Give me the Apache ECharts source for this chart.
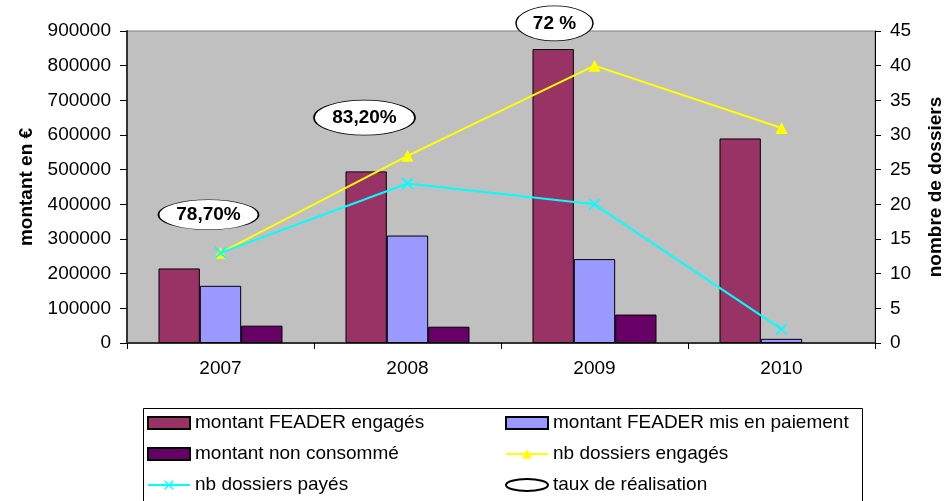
<!DOCTYPE html>
<html>
<head>
<meta charset="utf-8">
<script src="https://cdn.jsdelivr.net/npm/echarts@6/dist/echarts.min.js"></script>
<style>
  html, body { margin: 0; padding: 0; background: #fff; }
  #chart { width: 948px; height: 501px; }
</style>
</head>
<body>
<div id="chart"></div>
<script>
// données
const annees = ["2007", "2008", "2009", "2010"];
const montantEngages = [215000, 495000, 848000, 590000];
const montantPaiement = [165000, 310000, 242000, 12000];
const montantNonConsomme = [50000, 47000, 82000, null];
const nbDossiersEngages = [13, 27, 40, 31];
const nbDossiersPayes = [13, 23, 20, 2];
const tauxRealisation = ["78,70%", "83,20%", "72 %"];
const tauxHauteur = [370000, 650000, 922000];

// réglages des bulles (position / taille)
const bulleDecalage = [[-12, 0], [-43, 0], [-40, 0]];
const bulleTaille = [[100, 30], [101, 35], [77, 35]];

const font = "Liberation Sans, Arial, sans-serif";
const ellipse = "path://M50,0 C77.6,0 100,22.4 100,50 C100,77.6 77.6,100 50,100 C22.4,100 0,77.6 0,50 C0,22.4 22.4,0 50,0 Z";
const croix = "path://M0,1 L1,0 L5,4 L9,0 L10,1 L6,5 L10,9 L9,10 L5,6 L1,10 L0,9 L4,5 Z";

const chart = echarts.init(document.getElementById("chart"));

const legendeCommune = {
  orient: "vertical",
  top: 413,
  padding: 0,
  itemWidth: 42,
  itemHeight: 12,
  itemGap: 11,
  textStyle: { fontFamily: font, fontSize: 19, color: "#000", lineHeight: 20 },
};

chart.setOption({
  animation: false,
  textStyle: { fontFamily: font },
  grid: {
    left: 127,
    right: 73,
    top: 31,
    bottom: 158,
    containLabel: false,
    outerBoundsMode: "none",
    show: true,
    backgroundColor: "#C0C0C0",
    borderColor: "#808080",
    borderWidth: 1,
  },
  legend: [
    Object.assign({}, legendeCommune, {
      left: 147,
      data: [
        { name: "montant FEADER engagés", icon: "rect" },
        { name: "montant non consommé", icon: "rect" },
        "nb dossiers payés",
      ],
    }),
    Object.assign({}, legendeCommune, {
      left: 505,
      symbolKeepAspect: false,
      data: [
        { name: "montant FEADER mis en paiement", icon: "rect" },
        "nb dossiers engagés",
        { name: "taux de réalisation", icon: ellipse },
      ],
    }),
  ],
  graphic: [
    {
      type: "rect",
      left: 141,
      top: 406,
      shape: { width: 719, height: 110 },
      style: { fill: "none", stroke: "#000", lineWidth: 1 },
      silent: true,
    },
  ],
  xAxis: {
    type: "category",
    data: annees,
    axisLine: { lineStyle: { color: "#333", width: 2 } },
    axisTick: { show: true, length: 6, lineStyle: { color: "#000" } },
    axisLabel: { fontSize: 19, color: "#000", margin: 16 },
  },
  yAxis: [
    {
      type: "value",
      min: 0,
      max: 900000,
      interval: 100000,
      name: "montant en €",
      nameLocation: "middle",
      nameRotate: 90,
      nameGap: 88,
      nameTextStyle: { fontSize: 19, fontWeight: "bold", color: "#000" },
      axisLine: { show: true, lineStyle: { color: "#333", width: 2 } },
      axisTick: { show: true, length: 7, lineStyle: { color: "#000" } },
      axisLabel: { fontSize: 19, color: "#000", margin: 16, formatter: (v) => String(v) },
      splitLine: { show: false },
    },
    {
      type: "value",
      min: 0,
      max: 45,
      interval: 5,
      position: "right",
      name: "nombre de dossiers",
      nameLocation: "middle",
      nameRotate: 90,
      nameGap: 51,
      nameTextStyle: { fontSize: 19, fontWeight: "bold", color: "#000" },
      axisLine: { show: true, lineStyle: { color: "#000", width: 1 } },
      axisTick: { show: true, length: 6, lineStyle: { color: "#000" } },
      axisLabel: { fontSize: 19, color: "#000", margin: 15 },
      splitLine: { show: false },
    },
  ],
  series: [
    {
      name: "montant FEADER engagés",
      type: "bar",
      data: montantEngages,
      barGap: "0%",
      barCategoryGap: "33.7%",
      itemStyle: { color: "#993366", borderColor: "#000", borderWidth: 1 },
    },
    {
      name: "montant FEADER mis en paiement",
      type: "bar",
      data: montantPaiement,
      itemStyle: { color: "#9999FF", borderColor: "#000", borderWidth: 1 },
    },
    {
      name: "montant non consommé",
      type: "bar",
      data: montantNonConsomme,
      itemStyle: { color: "#660066", borderColor: "#000", borderWidth: 1 },
    },
    {
      name: "nb dossiers engagés",
      type: "line",
      yAxisIndex: 1,
      data: nbDossiersEngages,
      symbol: "triangle",
      symbolSize: 12,
      showAllSymbol: true,
      lineStyle: { color: "#FFFF00", width: 2 },
      itemStyle: { color: "#FFFF00" },
      z: 3,
    },
    {
      name: "nb dossiers payés",
      type: "line",
      yAxisIndex: 1,
      data: nbDossiersPayes,
      symbol: croix,
      symbolSize: 12,
      showAllSymbol: true,
      lineStyle: { color: "#00FFFF", width: 2 },
      itemStyle: { color: "#00FFFF" },
      z: 4,
    },
    {
      name: "taux de réalisation",
      type: "scatter",
      clip: false,
      symbol: ellipse,
      data: tauxRealisation.map((t, i) => ({
        name: t,
        value: [i, tauxHauteur[i]],
        symbolSize: bulleTaille[i],
        symbolOffset: bulleDecalage[i],
      })),
      itemStyle: { color: "#fff", borderColor: "#000", borderWidth: 1, opacity: 1 },
      emphasis: { disabled: true },
      label: {
        show: true,
        position: "inside",
        formatter: (p) => p.name,
        fontFamily: font,
        fontSize: 19,
        fontWeight: "bold",
        color: "#000",
      },
      z: 5,
    },
  ],
});
</script>
</body>
</html>
